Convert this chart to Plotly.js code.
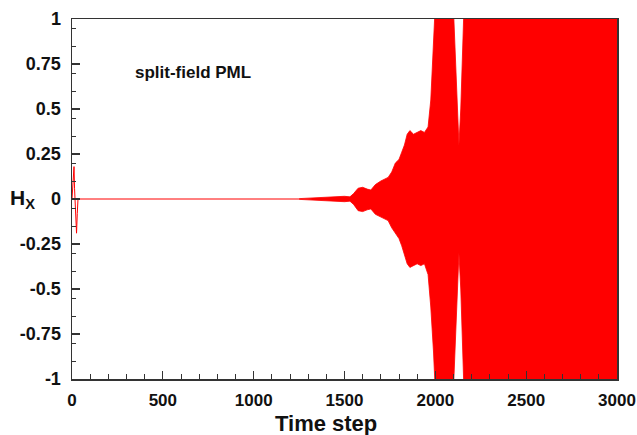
<!DOCTYPE html>
<html>
<head>
<meta charset="utf-8">
<script src="https://cdn.plot.ly/plotly-3.0.1.min.js"></script>
<style>html,body{margin:0;padding:0;background:#fff;}#chart{width:637px;height:435px;}</style>
</head>
<body>
<div id="chart"></div>
<script>
// Initial source pulse and the quiet zero line that follows it
var pulseT = [0, 4, 8, 11, 14, 18, 22, 25, 29, 33, 1250];
var pulseV = [0, 0.06, 0.14, 0.18, 0.06, -0.06, -0.15, -0.19, -0.08, 0, 0];

// Envelope of the growing late-time instability
var envT = [1250, 1300, 1350, 1400, 1450, 1500, 1530, 1550, 1575, 1600, 1625, 1645, 1670, 1700, 1740, 1760, 1780, 1800, 1815, 1830, 1845, 1860, 1880, 1900, 1920, 1940, 1960, 1975, 1990, 2000, 2010, 2090, 2105, 2120, 2130, 2140, 2150, 2165, 3000];
var envUpper = [0.002, 0.005, 0.008, 0.012, 0.015, 0.015, 0.012, 0.03, 0.06, 0.065, 0.055, 0.05, 0.08, 0.1, 0.12, 0.15, 0.2, 0.22, 0.26, 0.3, 0.36, 0.38, 0.36, 0.37, 0.38, 0.37, 0.4, 0.55, 0.8, 1.05, 1.3, 1.3, 0.9, 0.5, 0.3, 0.5, 0.9, 1.3, 1.3];
var envLower = [-0.002, -0.005, -0.008, -0.012, -0.015, -0.015, -0.012, -0.03, -0.065, -0.07, -0.06, -0.055, -0.085, -0.1, -0.12, -0.16, -0.19, -0.22, -0.26, -0.31, -0.36, -0.38, -0.37, -0.36, -0.37, -0.36, -0.42, -0.6, -0.85, -1.05, -1.3, -1.3, -0.9, -0.5, -0.3, -0.5, -0.9, -1.3, -1.3];

// Tick labels
var xTicks = [0, 500, 1000, 1500, 2000, 2500, 3000];
var xTickText = ['0', '500', '1000', '1500', '2000', '2500', '3000'];
var yTicks = [-1, -0.75, -0.5, -0.25, 0, 0.25, 0.5, 0.75, 1];
var yTickText = ['-1', '-0.75', '-0.5', '-0.25', '0', '0.25', '0.5', '0.75', '1'];
var yMinorTicks = [-0.9, -0.8, -0.65, -0.55, -0.4, -0.3, -0.15, -0.05, 0.1, 0.2, 0.35, 0.45, 0.6, 0.7, 0.85, 0.95];

var RED = '#ff0000';
var FONT = 'Arial, "Liberation Sans", sans-serif';

var traces = [
  {x: envT, y: envUpper, type: 'scatter', mode: 'lines', line: {color: RED, width: 0.8}, hoverinfo: 'skip', showlegend: false},
  {x: envT, y: envLower, type: 'scatter', mode: 'lines', fill: 'tonexty', fillcolor: RED, line: {color: RED, width: 0.8}, hoverinfo: 'skip', showlegend: false},
  {x: pulseT, y: pulseV, type: 'scatter', mode: 'lines', line: {color: RED, width: 1}, hoverinfo: 'skip', showlegend: false}
];

var layout = {
  width: 637, height: 435,
  margin: {l: 72, r: 20, t: 19, b: 56},
  paper_bgcolor: '#fff', plot_bgcolor: '#fff',
  font: {family: FONT, color: '#111'},
  xaxis: {
    range: [0, 3000], showgrid: false, zeroline: false,
    showline: true, linecolor: '#333', linewidth: 1.5, mirror: true,
    tickmode: 'array', tickvals: xTicks, ticktext: xTickText,
    ticks: 'inside', ticklen: 8, tickwidth: 1.2, tickcolor: '#333',
    minor: {dtick: 100, tick0: 0, ticks: 'inside', ticklen: 5, tickwidth: 1, tickcolor: '#333'},
    tickfont: {family: FONT, size: 17, color: '#111', weight: 'bold'},
    ticklabelstandoff: 5,
    ticklabeloverflow: 'allow'
  },
  yaxis: {
    range: [-1, 1], showgrid: false, zeroline: false,
    showline: true, linecolor: '#333', linewidth: 1.5, mirror: true,
    tickmode: 'array', tickvals: yTicks, ticktext: yTickText,
    ticks: 'inside', ticklen: 8, tickwidth: 1.2, tickcolor: '#333',
    minor: {tickmode: 'array', tickvals: yMinorTicks, ticks: 'inside', ticklen: 4, tickwidth: 1, tickcolor: '#333'},
    tickfont: {family: FONT, size: 18, color: '#111', weight: 'bold'},
    ticklabelstandoff: 6,
    ticklabeloverflow: 'allow'
  },
  annotations: [
    {text: '<b>Time step</b>', xref: 'paper', yref: 'paper', x: 0.466, y: 0, yshift: -44, xanchor: 'center', yanchor: 'middle', showarrow: false, font: {family: FONT, size: 22, color: '#111'}},
    {text: '<b>H<sub style="font-size:14px">X</sub></b>', xref: 'paper', yref: 'y', x: 0, xshift: -64, y: 0, xanchor: 'left', yanchor: 'middle', showarrow: false, font: {family: FONT, size: 21, color: '#111'}},
    {text: '<b>split-field PML</b>', xref: 'x', yref: 'y', x: 338, y: 0.705, xanchor: 'left', yanchor: 'middle', showarrow: false, font: {family: FONT, size: 17, color: '#111'}}
  ]
};

Plotly.newPlot('chart', traces, layout, {displayModeBar: false, staticPlot: true});
</script>
</body>
</html>
